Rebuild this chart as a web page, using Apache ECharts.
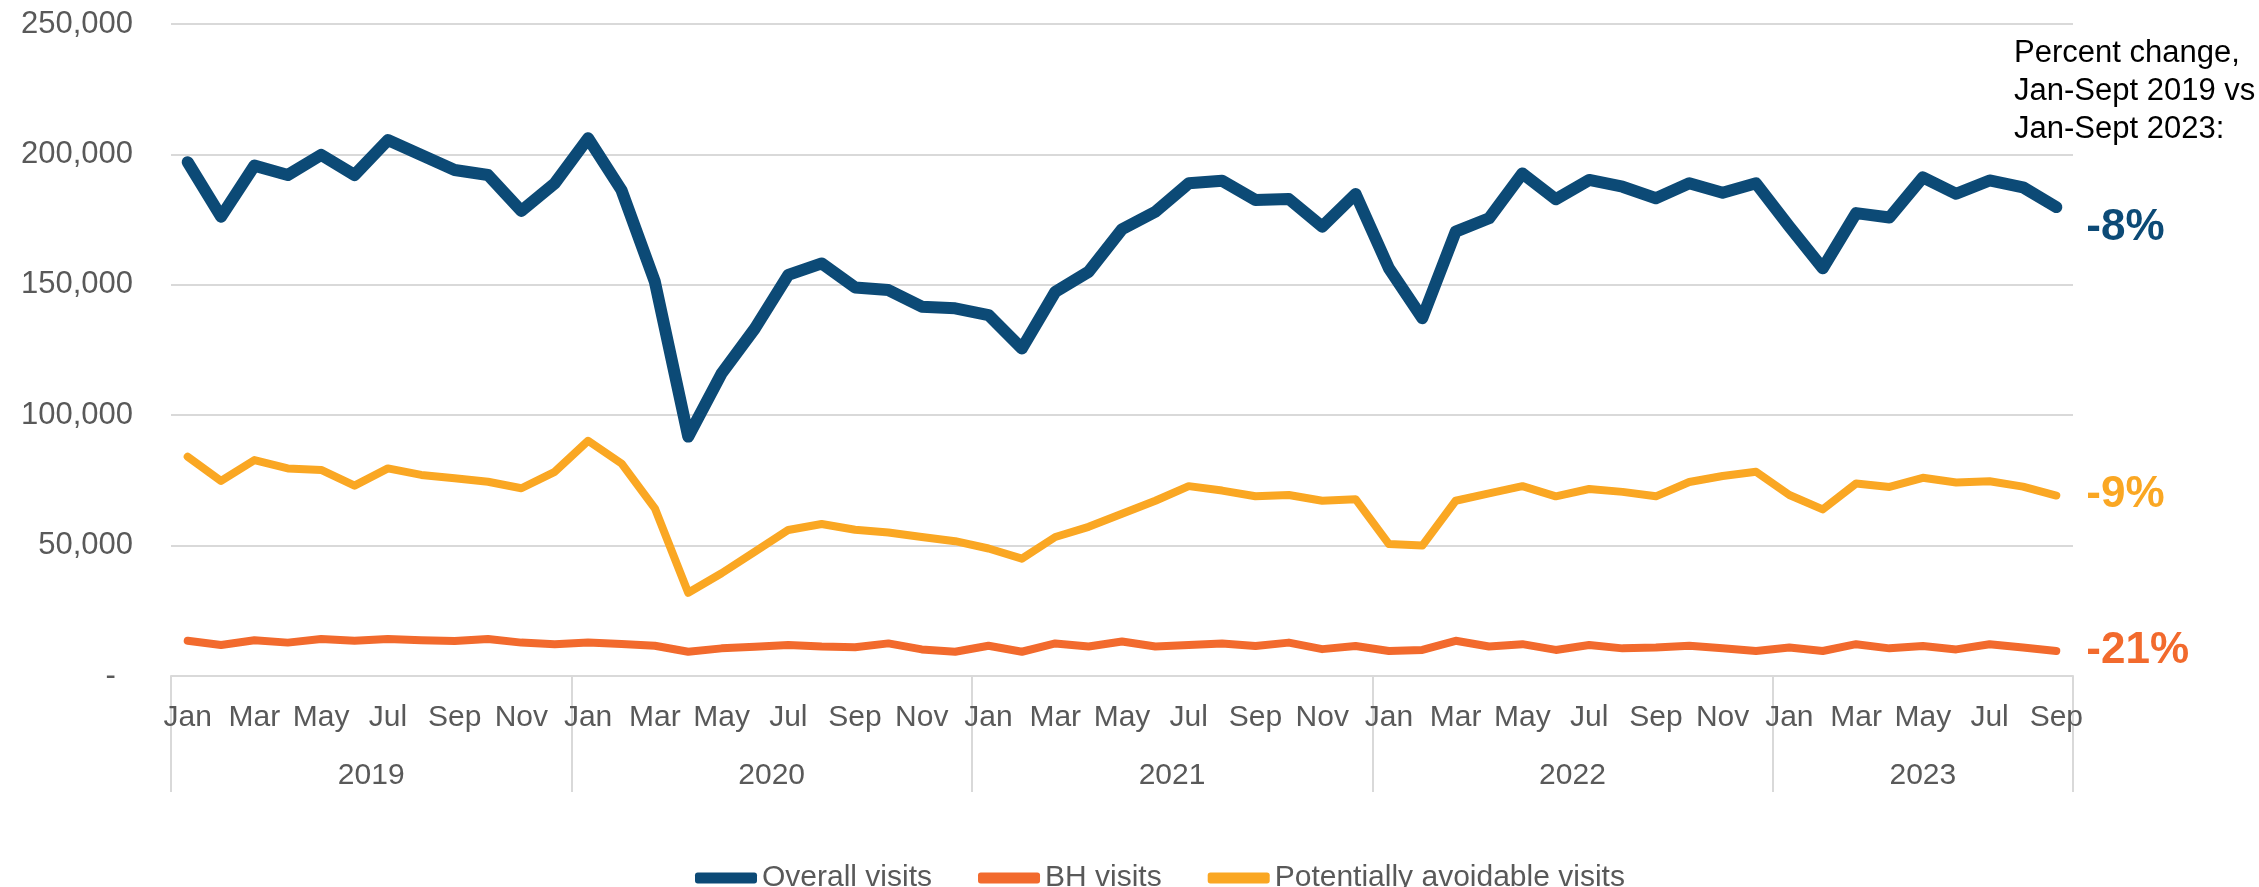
<!DOCTYPE html>
<html>
<head>
<meta charset="utf-8">
<script src="https://cdn.jsdelivr.net/npm/echarts@6/dist/echarts.min.js"></script>
<style>
  html, body { margin: 0; padding: 0; background: #fff; }
  #chart { width: 2259px; height: 887px; }
</style>
</head>
<body>
<div id="chart"></div>
<script>
// categories
var monthNames = ['Jan', 'Feb', 'Mar', 'Apr', 'May', 'Jun', 'Jul', 'Aug', 'Sep', 'Oct', 'Nov', 'Dec'];
var years = ['2019', '2020', '2021', '2022', '2023'];
var monthsInYear = [12, 12, 12, 12, 9];

// series values (monthly visits)
var overallVisits = [
  197000, 176100, 195700, 192100, 199800, 192100, 205500, 199800, 194000, 192100, 178300, 188900,
  206200, 186300, 151200, 91800, 116000, 133300, 153800, 158200, 149000, 148000, 141600, 141000,
  138400, 125600, 147300, 155000, 171300, 178000, 188900, 189900, 182500, 182900, 172300, 184800,
  156300, 137200, 170400, 175500, 192700, 182800, 190200, 187600, 183200, 188900, 185300, 188900,
  172300, 156300, 177500, 175800, 191200, 184900, 190000, 187400, 179800
];
var bhVisits = [
  13500, 11900, 13700, 12800, 14200, 13500, 14200, 13700, 13400, 14200, 12800, 12200,
  12800, 12300, 11600, 9300, 10600, 11200, 11900, 11300, 11000, 12500, 10200, 9300,
  11600, 9300, 12500, 11300, 13200, 11300, 11900, 12500, 11500, 12800, 10300, 11500,
  9600, 10000, 13500, 11300, 12200, 10000, 11900, 10600, 10900, 11600, 10600, 9600,
  10900, 9600, 12200, 10600, 11500, 10200, 12200, 10900, 9600
];
var avoidableVisits = [
  84100, 74800, 82800, 79600, 79000, 73000, 79600, 77100, 75800, 74500, 72000, 78300,
  90200, 81500, 64300, 31900, 39400, 47700, 56000, 58300, 56100, 55000, 53300, 51700,
  48900, 45000, 53300, 57200, 62200, 67200, 72800, 71100, 68900, 69400, 67200, 67800,
  50600, 50000, 67200, 70000, 72800, 68900, 71700, 70600, 68900, 74400, 76700, 78300,
  69400, 63900, 73800, 72500, 76000, 74200, 74700, 72600, 69200
];

// percent change Jan-Sept 2019 vs Jan-Sept 2023
var pctOverall = '-8%';
var pctBH = '-21%';
var pctAvoidable = '-9%';

// month labels and year boundaries
var months = [];
var yearEdges = [0];
var yearMids = [];
for (var y = 0; y < years.length; y++) {
  for (var m = 0; m < monthsInYear[y]; m++) {
    months.push(monthNames[m]);
  }
  var start = yearEdges[yearEdges.length - 1];
  yearEdges.push(start + monthsInYear[y]);
  yearMids.push(start + monthsInYear[y] / 2);
}

var FONT = '"Liberation Sans", Arial, sans-serif';
var GRAY = '#595959';
var GRID = '#d9d9d9';
var BLUE = '#0c4a76';
var ORANGE = '#f26a2d';
var GOLD = '#faa723';

var chart = echarts.init(document.getElementById('chart'));

var option = {
  backgroundColor: '#fff',
  animation: false,
  textStyle: { fontFamily: FONT },
  grid: { left: 171, right: 186, top: 24, bottom: 211, containLabel: false, outerBoundsMode: 'none' },
  legend: {
    left: 690,
    top: 858,
    itemWidth: 62,
    itemHeight: 11,
    itemGap: 46,
    textStyle: { fontSize: 30, color: GRAY, fontFamily: FONT },
    data: [
      { name: 'Overall visits', icon: 'roundRect', itemStyle: { color: BLUE } },
      { name: 'BH visits', icon: 'roundRect', itemStyle: { color: ORANGE } },
      { name: 'Potentially avoidable visits', icon: 'roundRect', itemStyle: { color: GOLD } }
    ]
  },
  xAxis: [{
    type: 'category',
    data: months,
    boundaryGap: true,
    axisLine: { lineStyle: { color: GRID, width: 2 } },
    axisTick: { show: false },
    axisLabel: { interval: 1, fontSize: 30, color: GRAY, margin: 27, fontFamily: FONT }
  }, {
    type: 'value',
    position: 'bottom',
    min: 0,
    max: months.length,
    axisLine: { show: false },
    splitLine: { show: false },
    axisTick: { show: true, customValues: yearEdges, length: 116, lineStyle: { color: GRID, width: 2 } },
    axisLabel: {
      customValues: yearMids,
      fontSize: 30, color: GRAY, margin: 85, fontFamily: FONT,
      formatter: function (v) {
        var i = yearMids.indexOf(v);
        return i >= 0 ? years[i] : '';
      }
    }
  }],
  yAxis: {
    type: 'value',
    min: 0,
    max: 250000,
    interval: 50000,
    axisLine: { show: false },
    axisTick: { show: false },
    splitLine: { lineStyle: { color: GRID, width: 2 } },
    axisLabel: {
      fontSize: 31, color: GRAY, margin: 38, fontFamily: FONT,
      formatter: function (v) { return v === 0 ? '-  ' : v.toLocaleString('en-US'); }
    }
  },
  series: [{
    name: 'Overall visits',
    type: 'line',
    data: overallVisits,
    symbol: 'none',
    color: BLUE,
    z: 4,
    lineStyle: { width: 12, color: BLUE, cap: 'round', join: 'round' },
    endLabel: {
      show: true, formatter: pctOverall, distance: 30, offset: [0, 21],
      fontSize: 44, fontWeight: 'bold', color: BLUE, fontFamily: FONT
    }
  }, {
    name: 'BH visits',
    type: 'line',
    data: bhVisits,
    symbol: 'none',
    color: ORANGE,
    z: 3,
    lineStyle: { width: 8, color: ORANGE, cap: 'round', join: 'round' },
    endLabel: {
      show: true, formatter: pctBH, distance: 30, offset: [0, 0],
      fontSize: 44, fontWeight: 'bold', color: ORANGE, fontFamily: FONT
    }
  }, {
    name: 'Potentially avoidable visits',
    type: 'line',
    data: avoidableVisits,
    symbol: 'none',
    color: GOLD,
    z: 3,
    lineStyle: { width: 8, color: GOLD, cap: 'round', join: 'round' },
    endLabel: {
      show: true, formatter: pctAvoidable, distance: 30, offset: [0, -1],
      fontSize: 44, fontWeight: 'bold', color: GOLD, fontFamily: FONT
    }
  }],
  graphic: [{
    type: 'text',
    left: 2014,
    top: 34,
    style: {
      text: 'Percent change,\nJan-Sept 2019 vs\nJan-Sept 2023:',
      font: '31px ' + FONT,
      lineHeight: 38,
      fill: '#000'
    }
  }]
};

chart.setOption(option);
</script>
</body>
</html>
